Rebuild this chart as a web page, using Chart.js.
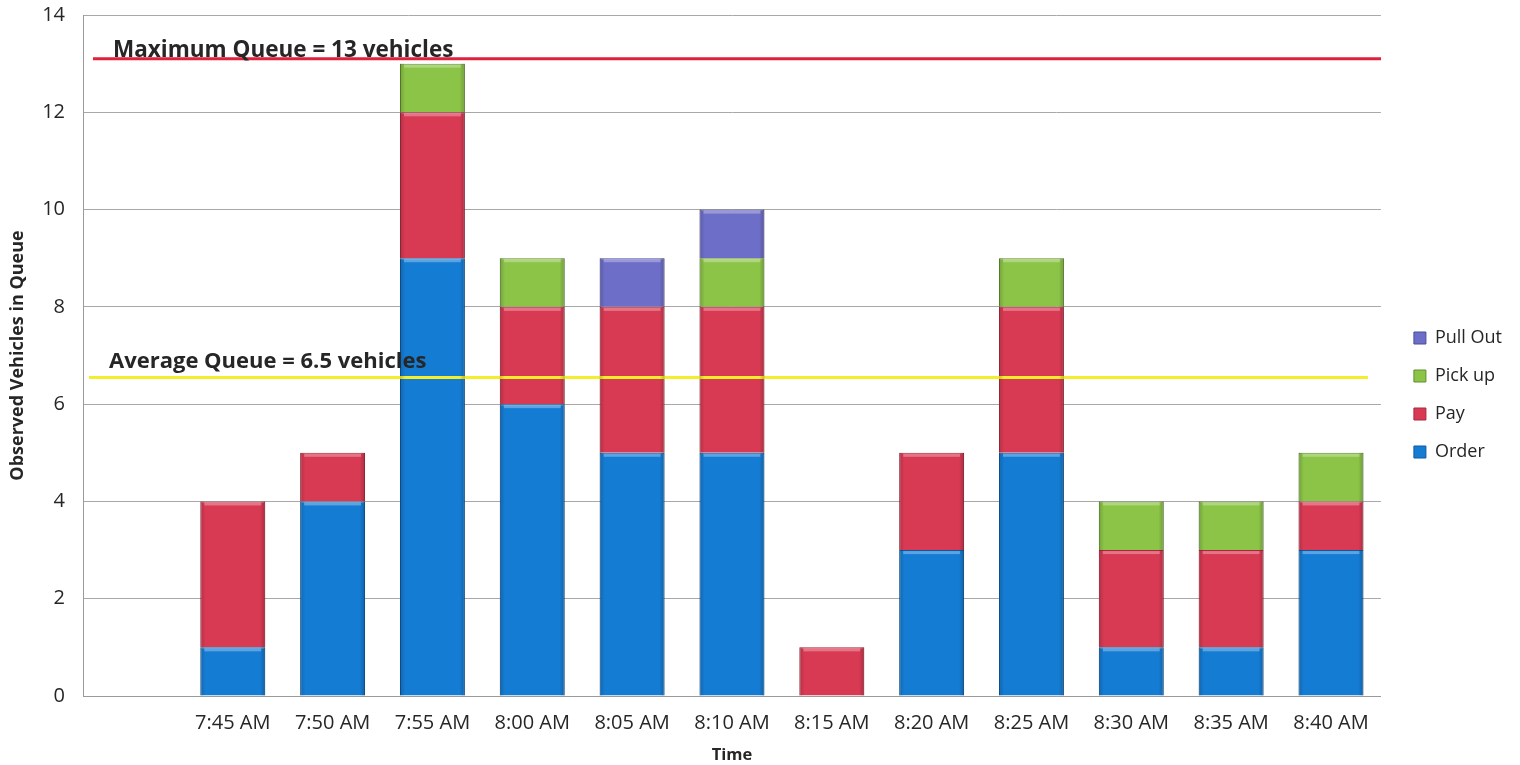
<!DOCTYPE html>
<html>
<head>
<meta charset="utf-8">
<script src="https://cdn.jsdelivr.net/npm/chart.js@4"></script>
<style>
  html, body { margin: 0; padding: 0; background: #ffffff; }
  #wrap { width: 1520px; height: 765px; position: relative; }
</style>
</head>
<body>
<div id="wrap"><canvas id="queueChart"></canvas></div>
<script>
const times = ["", "7:45 AM", "7:50 AM", "7:55 AM", "8:00 AM", "8:05 AM", "8:10 AM", "8:15 AM", "8:20 AM", "8:25 AM", "8:30 AM", "8:35 AM", "8:40 AM"]
const orderVals = [0, 1, 4, 9, 6, 5, 5, 0, 3, 5, 1, 1, 3]
const payVals = [0, 3, 1, 3, 2, 3, 3, 1, 2, 3, 2, 2, 1]
const pickupVals = [0, 0, 0, 1, 1, 0, 1, 0, 0, 1, 1, 1, 1]
const pullOutVals = [0, 0, 0, 0, 0, 1, 1, 0, 0, 0, 0, 0, 0]
const maxQueue = 13.1
const avgQueue = 6.55

const FONT = "'Open Sans', Lato, sans-serif"

// labels above the max / average lines + a light bevel on each bar
const extras = {
  id: "extras",
  afterLayout(chart) {
    // nudge legend to where the reference has it
    chart.legend.left += 13
    chart.legend.right += 13
    chart.legend.top += 5
    chart.legend.bottom += 5
  },
  afterDatasetsDraw(chart) {
    const { ctx, scales } = chart
    ctx.save()
    chart.data.datasets.forEach((ds, i) => {
      if (ds.type === "line") return
      chart.getDatasetMeta(i).data.forEach((bar) => {
        const h = bar.base - bar.y
        if (h < 1) return
        const left = bar.x - bar.width / 2
        const g = ctx.createLinearGradient(left, 0, left + bar.width, 0)
        g.addColorStop(0, "rgba(0,0,0,0.18)")
        g.addColorStop(0.08, "rgba(0,0,0,0)")
        g.addColorStop(0.92, "rgba(0,0,0,0)")
        g.addColorStop(1, "rgba(0,0,0,0.22)")
        ctx.fillStyle = g
        ctx.fillRect(left, bar.y, bar.width, h)
        ctx.fillStyle = "rgba(255,255,255,0.3)"
        ctx.fillRect(left + 4, bar.y + 1, bar.width - 8, 3)
      })
    })
    ctx.fillStyle = "#262626"
    ctx.textBaseline = "bottom"
    ctx.font = "bold 22.5px " + FONT
    ctx.fillText("Maximum Queue = 13 vehicles", 113, scales.y.getPixelForValue(maxQueue) + 3)
    ctx.font = "bold 22px " + FONT
    ctx.fillText("Average Queue = 6.5 vehicles", 109, scales.y.getPixelForValue(avgQueue) - 5)
    ctx.restore()
  },
}

const barStyle = (color, edge) => ({
  backgroundColor: color,
  borderColor: edge,
  borderWidth: 1,
  barPercentage: 0.65,
  categoryPercentage: 1.0,
  grouped: false,
  stack: "q",
  order: 2,
})

new Chart(document.getElementById("queueChart"), {
  type: "bar",
  data: {
    labels: times,
    datasets: [
      { label: "Order", data: orderVals, ...barStyle("#157cd4", "#0b5aa3") },
      { label: "Pay", data: payVals, ...barStyle("#d93a53", "#a9283c") },
      { label: "Pick up", data: pickupVals, ...barStyle("#8cc447", "#5f8f2c") },
      { label: "Pull Out", data: pullOutVals, ...barStyle("#6d6ec8", "#4b4c98") },
      {
        type: "line",
        label: "max",
        data: [{ x: 0.1, y: maxQueue }, { x: 13.02, y: maxQueue }],
        xAxisID: "xl",
        borderColor: "#e0203c",
        borderWidth: 3,
        pointRadius: 0,
        order: 0,
      },
      {
        type: "line",
        label: "avg",
        data: [{ x: 0.06, y: avgQueue }, { x: 12.87, y: avgQueue }],
        xAxisID: "xl",
        borderColor: "#f4ee2a",
        borderWidth: 3,
        pointRadius: 0,
        order: 0,
      },
    ],
  },
  options: {
    responsive: true,
    maintainAspectRatio: false,
    animation: false,
    layout: { padding: { top: 15, right: 21, left: 0, bottom: 0 } },
    plugins: {
      legend: {
        position: "right",
        reverse: true,
        labels: {
          filter: (item) => item.text !== "max" && item.text !== "avg",
          boxWidth: 12,
          boxHeight: 12,
          padding: 20,
          color: "#262626",
          font: { size: 18, family: FONT },
        },
      },
      tooltip: { enabled: false },
    },
    scales: {
      x: {
        stacked: true,
        grid: { display: false, drawTicks: false },
        border: { color: "#9a9a9a" },
        ticks: { color: "#262626", font: { size: 20, family: FONT }, padding: 15, maxRotation: 0 },
        title: { display: true, text: "Time", color: "#262626", font: { size: 16.5, weight: "bold", family: FONT }, padding: { top: 0, bottom: 0 } },
        afterFit: (scale) => { scale.height = 69 },
      },
      xl: {
        type: "linear",
        display: false,
        offset: false,
        min: 0,
        max: 13,
      },
      y: {
        stacked: true,
        min: 0,
        max: 14,
        grid: { color: "#a8a8a8", drawTicks: false },
        border: { color: "#9a9a9a" },
        ticks: { stepSize: 2, color: "#262626", font: { size: 20, family: FONT }, padding: 18 },
        title: { display: true, text: "Observed Vehicles in Queue", color: "#262626", font: { size: 18, weight: "bold", family: FONT }, padding: { top: 7, bottom: 0 } },
        afterFit: (scale) => {
          scale.width = 83
          scale.paddingTop = 0
        },
      },
    },
  },
  plugins: [extras],
})
</script>
</body>
</html>
